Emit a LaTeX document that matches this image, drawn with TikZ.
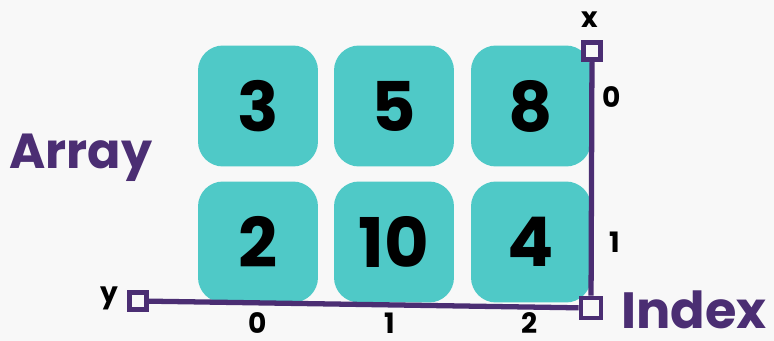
\documentclass[tikz,border=0pt]{standalone}
\usepackage{fontspec}
\setmainfont{Poppins}
\definecolor{cellteal}{RGB}{79,201,199}
\definecolor{axispurple}{RGB}{75,46,115}
\definecolor{bggray}{RGB}{248,248,248}
\begin{document}
\begin{tikzpicture}[
            x=0.02cm, y=-0.02cm,
            cell/.style={fill=cellteal, rounded corners=0.5cm, minimum width=2.4cm, minimum height=2.42cm, inner sep=0pt, font=\fontsize{39}{39}\selectfont\bfseries},
            marker/.style={draw=axispurple, fill=bggray, line width=2.8pt, minimum size=0.34cm, inner sep=0pt},
            axis/.style={draw=axispurple, line width=3pt},
            tick/.style={font=\fontsize{16}{16}\selectfont\bfseries},
            title/.style={text=axispurple, inner sep=0pt, font=\fontsize{29}{29}\selectfont\bfseries}
        ]
            \fill[bggray] (0,0) rectangle (774,341);
            \useasboundingbox (0,0) rectangle (774,341);
            % cells of the array
            \node[cell] (c00) at (258, 106) {3};
            \node[cell] (c01) at (394, 106) {5};
            \node[cell] (c02) at (531, 106) {8};
            \node[cell] (c10) at (258, 242) {2};
            \node[cell] (c11) at (394, 242) {10};
            \node[cell] (c12) at (531, 242) {4};
            % axes
            \node[marker] (ymark) at (138, 301) {};
            \node[marker] (xmark) at (592, 51) {};
            \node[marker, minimum size=0.4cm] (origin) at (591, 308) {};
            \draw[axis] (ymark) -- (origin);
            \draw[axis] (xmark) -- (origin);
            \node[tick] (xlab) at (590, 20) {x};
            \node[tick] (ylab) at (109, 298) {y};
            \node[tick] (r0) at (612, 97) {0};
            \node[tick] (r1) at (615, 242) {1};
            \node[tick] (k0) at (258, 323) {0};
            \node[tick] (k1) at (390, 323) {1};
            \node[tick] (k2) at (530, 323) {2};
            \node[title, font=\fontsize{28}{28}\selectfont\bfseries] (arr) at (81, 158) {Array};
            \node[title] (idx) at (694, 310) {Index};
        \end{tikzpicture}
\end{document}
